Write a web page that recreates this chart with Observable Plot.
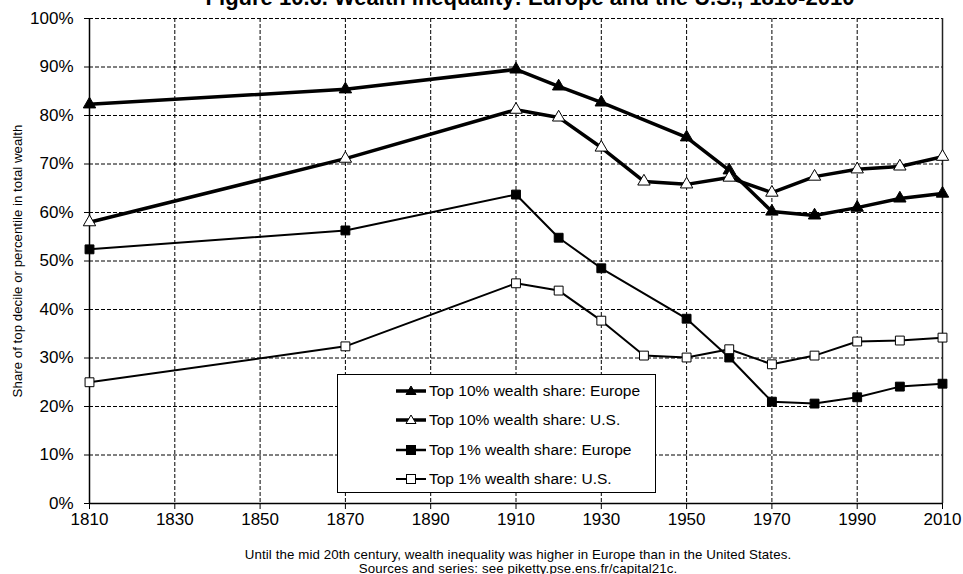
<!DOCTYPE html>
<html>
<head>
<meta charset="utf-8">
<script src="https://cdn.jsdelivr.net/npm/d3@7"></script>
<script src="https://cdn.jsdelivr.net/npm/@observablehq/plot@0.6"></script>
<style>
  html, body { margin: 0; padding: 0; background: #fff; overflow: hidden; }
  body { width: 963px; height: 574px; position: relative; font-family: "Liberation Sans", Arial, sans-serif; color: #000; }
  #title { position: absolute; top: -13px; left: 0; width: 1060px; text-align: center; font-weight: bold; font-size: 22px; line-height: 22px; white-space: nowrap; }
  #chart { position: absolute; top: 0; left: 0; }
  #chart svg text { font-size: 17px; font-weight: normal; fill: #000; }
  #caption { position: absolute; top: 548px; left: 0; width: 1036px; text-align: center; font-size: 13.3px; line-height: 14px; letter-spacing: 0.1px; }
  #ylabel { position: absolute; left: 17px; top: 261px; transform: translate(-50%, -50%) rotate(-90deg); font-size: 13.3px; white-space: nowrap; }
  #legend { position: absolute; left: 337px; top: 374px; width: 317px; height: 117px; border: 1.5px solid #000; background: #fff; }
  .row { position: absolute; left: 57px; height: 20px; display: flex; align-items: center; font-size: 15.5px; white-space: nowrap; }
  .row svg { margin-right: 2px; }
</style>
</head>
<body>
<div id="title">Figure 10.6. Wealth inequality: Europe and the U.S., 1810-2010</div>
<div id="chart"></div>
<div id="ylabel">Share of top decile or percentile in total wealth</div>
<div id="legend"></div>
<div id="caption">Until the mid 20th century, wealth inequality was higher in Europe than in the United States.<br>Sources and series: see piketty.pse.ens.fr/capital21c.</div>
<script>
const yearsEurope = [1810, 1870, 1910, 1920, 1930, 1950, 1960, 1970, 1980, 1990, 2000, 2010];
const yearsUS = [1810, 1870, 1910, 1920, 1930, 1940, 1950, 1960, 1970, 1980, 1990, 2000, 2010];
const top10Europe = [82.3, 85.4, 89.5, 86.0, 82.7, 75.5, 68.7, 60.2, 59.4, 61.0, 62.9, 63.9];
const top10US = [58.0, 71.1, 81.2, 79.6, 73.4, 66.4, 65.8, 67.2, 64.1, 67.4, 68.9, 69.5, 71.5];
const top1Europe = [52.4, 56.3, 63.7, 54.8, 48.5, 38.1, 30.1, 21.0, 20.6, 21.9, 24.1, 24.7];
const top1US = [25.0, 32.4, 45.4, 43.9, 37.7, 30.5, 30.1, 31.8, 28.7, 30.5, 33.4, 33.6, 34.2];
const seriesNames = ["Top 10% wealth share: Europe", "Top 10% wealth share: U.S.", "Top 1% wealth share: Europe", "Top 1% wealth share: U.S."];
const xTicks = [1810, 1830, 1850, 1870, 1890, 1910, 1930, 1950, 1970, 1990, 2010];
const yTicks = [0, 10, 20, 30, 40, 50, 60, 70, 80, 90, 100];

const toRows = (years, vals) => years.map((y, i) => ({year: y, value: vals[i]}));
const s10E = toRows(yearsEurope, top10Europe);
const s10U = toRows(yearsUS, top10US);
const s1E = toRows(yearsEurope, top1Europe);
const s1U = toRows(yearsUS, top1US);

const dash = "4,2";
const chart = Plot.plot({
  width: 963,
  height: 550,
  marginLeft: 89,
  marginRight: 21,
  marginTop: 18,
  marginBottom: 47,
  style: {fontFamily: "Liberation Sans, Arial, sans-serif", fontSize: "17px", color: "#000", background: "transparent"},
  x: {domain: [1810, 2010], ticks: xTicks, tickFormat: d => String(d), label: null},
  y: {domain: [0, 100], ticks: yTicks, tickFormat: d => d + "%", label: null},
  marks: [
    Plot.ruleX(xTicks.slice(1, -1), {stroke: "#000", strokeWidth: 1, strokeDasharray: dash}),
    Plot.ruleY(yTicks.slice(1), {stroke: "#000", strokeWidth: 1, strokeDasharray: dash}),
    Plot.ruleX([2010], {stroke: "#222", strokeWidth: 1.5}),
    Plot.ruleX([1810], {stroke: "#000", strokeWidth: 1.5}),
    Plot.ruleY([0], {stroke: "#000", strokeWidth: 1.5}),
    Plot.axisX({ticks: xTicks, tickFormat: d => String(d), tickSize: 6, tickPadding: 3, label: null}),
    Plot.axisY({ticks: yTicks, tickFormat: d => d + "%", tickSize: 5, tickPadding: 11, label: null}),
    Plot.line(s10E, {x: "year", y: "value", stroke: "#000", strokeWidth: 3.5}),
    Plot.line(s10U, {x: "year", y: "value", stroke: "#000", strokeWidth: 3.5}),
    Plot.line(s1E, {x: "year", y: "value", stroke: "#000", strokeWidth: 2}),
    Plot.line(s1U, {x: "year", y: "value", stroke: "#000", strokeWidth: 2}),
    Plot.dot(s10E, {x: "year", y: "value", symbol: "triangle", r: 4.6, fill: "#000", stroke: "#000", strokeWidth: 1}),
    Plot.dot(s10U, {x: "year", y: "value", symbol: "triangle", r: 4.6, fill: "#fff", stroke: "#000", strokeWidth: 1}),
    Plot.dot(s1E, {x: "year", y: "value", symbol: "square", r: 5, fill: "#000", stroke: "#000", strokeWidth: 1}),
    Plot.dot(s1U, {x: "year", y: "value", symbol: "square", r: 5, fill: "#fff", stroke: "#000", strokeWidth: 1})
  ]
});
document.getElementById("chart").appendChild(chart);

// Legend
const legend = document.getElementById("legend");
const legendStyles = [
  {lw: 3.5, sym: "tri", fill: "#000"},
  {lw: 3.5, sym: "tri", fill: "#fff"},
  {lw: 2.5, sym: "sq", fill: "#000"},
  {lw: 2, sym: "sq", fill: "#fff"}
];
seriesNames.forEach((name, i) => {
  const st = legendStyles[i];
  const row = document.createElement("div");
  row.className = "row";
  row.style.top = (6 + i * 29.3) + "px";
  const ns = "http://www.w3.org/2000/svg";
  const svg = document.createElementNS(ns, "svg");
  svg.setAttribute("width", 32); svg.setAttribute("height", 14);
  const line = document.createElementNS(ns, "line");
  line.setAttribute("x1", 1); line.setAttribute("x2", 31); line.setAttribute("y1", 7); line.setAttribute("y2", 7);
  line.setAttribute("stroke", "#000"); line.setAttribute("stroke-width", st.lw);
  svg.appendChild(line);
  let m;
  if (st.sym === "tri") {
    m = document.createElementNS(ns, "path");
    m.setAttribute("d", "M16,2 L21,10.5 L11,10.5 Z");
  } else {
    m = document.createElementNS(ns, "rect");
    m.setAttribute("x", 11.5); m.setAttribute("y", 2.5); m.setAttribute("width", 9); m.setAttribute("height", 9);
  }
  m.setAttribute("fill", st.fill); m.setAttribute("stroke", "#000"); m.setAttribute("stroke-width", 1);
  svg.appendChild(m);
  row.appendChild(svg);
  const t = document.createElement("span");
  t.textContent = name;
  row.appendChild(t);
  legend.appendChild(row);
});
</script>
</body>
</html>
